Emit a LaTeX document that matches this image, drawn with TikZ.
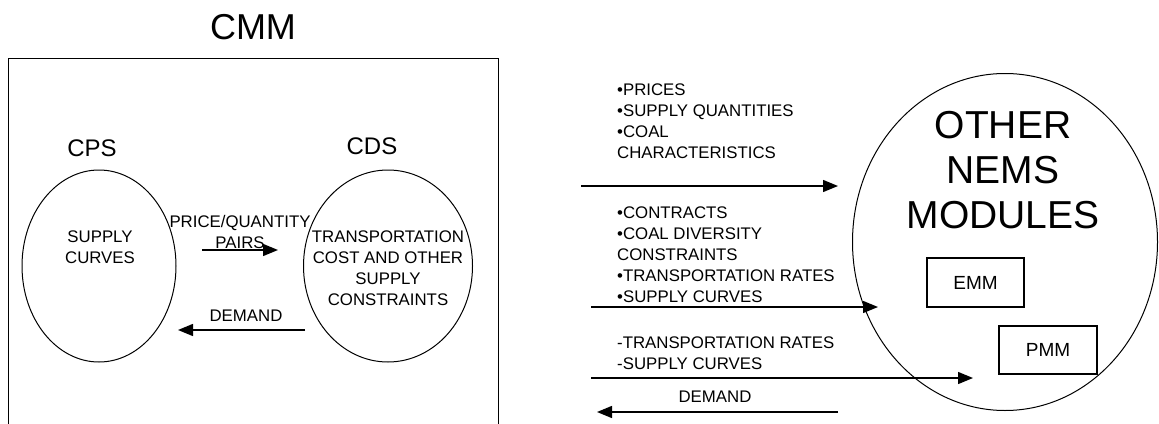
\documentclass[tikz,border=0pt]{standalone}
\usepackage{fontspec}
\setmainfont{Liberation Sans}
\usetikzlibrary{arrows.meta,shapes.geometric}
\tikzset{
  flow/.style={black, line width=1.4pt, -{Triangle[length=15pt,width=12pt]}},
  smalltext/.style={font=\fontsize{16.8}{21}\selectfont},
  module/.style={draw, line width=1pt, ellipse},
  subbox/.style={draw, line width=1.2pt, rectangle, font=\fontsize{19}{22}\selectfont},
}
\begin{document}
\begin{tikzpicture}[x=1pt,y=1pt]
                    \tikzstyle{every node}+=[inner sep=0pt]
                    \useasboundingbox (0,0) rectangle (1159,-423);
                    % CMM frame, open at the bottom
                    \node[font=\fontsize{36}{40}\selectfont] (cmm) at (253,-27) {CMM};
                    \draw [black, line width=1pt] (8,-430) |- (498,-58) -- (498,-430);
                    % the two submodules
                    \node[module, minimum width=154, minimum height=192] (cps) at (99,-266) {};
                    \node[module, minimum width=169, minimum height=192] (cds) at (388,-266) {};
                    \node[font=\fontsize{24}{28}\selectfont] (cpsname) at (92,-148) {CPS};
                    \node[font=\fontsize{24}{28}\selectfont] (cdsname) at (372,-146) {CDS};
                    \node[smalltext, align=center, anchor=north] (curves) at (100,-231) {SUPPLY\\CURVES};
                    \node[smalltext, align=center, anchor=north] (transport) at (388,-231)
                        {TRANSPORTATION\\COST AND OTHER\\SUPPLY\\CONSTRAINTS};
                    \node[smalltext, align=center, anchor=north] (pairs) at (240,-215) {PRICE/QUANTITY\\PAIRS};
                    \node[smalltext] (demandin) at (246,-316) {DEMAND};
                    \coordinate (pairsa) at (202,-250);
                    \coordinate (pairsb) at (278,-250);
                    \coordinate (demanda) at (305,-330);
                    \coordinate (demandb) at (178,-330);
                    \draw [flow] (pairsa) -- (pairsb);
                    \draw [flow] (demanda) -- (demandb);
                    % other NEMS modules
                    \node[module, minimum width=305, minimum height=337] (nems) at (1005,-242) {};
                    \node[font=\fontsize{39}{45}\selectfont, align=center, anchor=north] (nemsname) at (1003,-111)
                        {OTHER\\NEMS\\MODULES};
                    \node[subbox, minimum width=97, minimum height=49] (emm) at (975.5,-282.5) {EMM};
                    \node[subbox, minimum width=98, minimum height=48] (pmm) at (1048,-350) {PMM};
                    % flows between CMM and the rest of NEMS
                    \node[smalltext, align=left, anchor=north west] (outa) at (617,-84)
                        {\textbullet PRICES\\\textbullet SUPPLY QUANTITIES\\\textbullet COAL\\CHARACTERISTICS};
                    \node[smalltext, align=left, anchor=north west] (outb) at (617,-207)
                        {\textbullet CONTRACTS\\\textbullet COAL DIVERSITY\\CONSTRAINTS\\\textbullet TRANSPORTATION RATES\\\textbullet SUPPLY CURVES};
                    \node[smalltext, align=left, anchor=north west] (outc) at (617,-337)
                        {-TRANSPORTATION RATES\\-SUPPLY CURVES};
                    \node[smalltext] (demandout) at (715,-397) {DEMAND};
                    \coordinate (outas) at (581,-186);
                    \coordinate (outae) at (838,-186);
                    \coordinate (outbs) at (591,-307);
                    \coordinate (outbe) at (878,-307);
                    \coordinate (outcs) at (591,-378);
                    \coordinate (outce) at (973,-378);
                    \coordinate (backs) at (838,-412);
                    \coordinate (backe) at (597,-412);
                    \draw [flow] (outas) -- (outae);
                    \draw [flow] (outbs) -- (outbe);
                    \draw [flow] (outcs) -- (outce);
                    \draw [flow] (backs) -- (backe);
\end{tikzpicture}
\end{document}
